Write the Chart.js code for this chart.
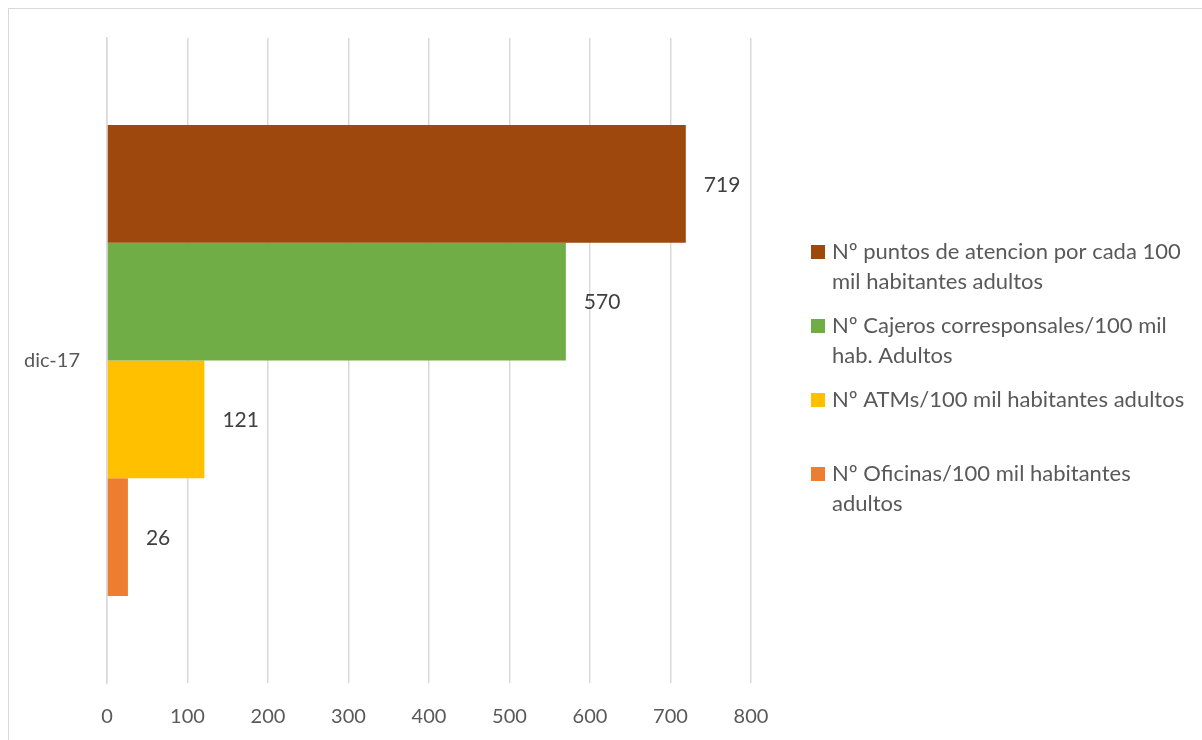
<!DOCTYPE html>
<html>
<head>
<meta charset="utf-8">
<script src="https://cdn.jsdelivr.net/npm/chart.js@4"></script>
<style>
  html, body { margin: 0; padding: 0; background: #fff; overflow: hidden; }
  #wrap { position: relative; width: 1202px; height: 740px; }
  #frame { position: absolute; left: 8px; top: 8px; width: 1300px; height: 800px; border: 1.5px solid #d9d9d9; box-sizing: border-box; }
  #chart { position: absolute; left: 0; top: 0; }
</style>
</head>
<body>
<div id="wrap">
  <div id="frame"></div>
  <canvas id="chart" width="1202" height="740"></canvas>
</div>
<script>
// Data
const categories = ['dic-17'];
const seriesNames = [
    ['Nº puntos de atencion por cada 100', 'mil habitantes adultos'],
    ['Nº Cajeros corresponsales/100 mil', 'hab. Adultos'],
    ['Nº ATMs/100 mil habitantes adultos'],
    ['Nº Oficinas/100 mil habitantes', 'adultos']
];
const puntosAtencion = [719];
const cajerosCorresponsales = [570];
const atms = [121];
const oficinas = [26];
const xTicks = [0, 100, 200, 300, 400, 500, 600, 700, 800];

const colors = ['#9E480E', '#70AD47', '#FFC000', '#ED7D31'];
const FONT = 'Lato, "Open Sans", sans-serif';

/**
 * Value labels placed after each bar end
 */
const valueLabels = {
    id: 'valueLabels',
    afterDatasetsDraw(chart) {
        const ctx = chart.ctx;
        ctx.save();
        ctx.font = '21px ' + FONT;
        ctx.fillStyle = '#404040';
        ctx.textAlign = 'left';
        ctx.textBaseline = 'middle';
        chart.data.datasets.forEach((ds, i) => {
            chart.getDatasetMeta(i).data.forEach((bar, j) => {
                ctx.fillText(String(ds.data[j]), bar.x + 18, bar.y + 1);
            });
        });
        ctx.restore();
    }
};

/**
 * Legend on the right, Excel style (wrapped lines)
 */
const sideLegend = {
    id: 'sideLegend',
    afterDraw(chart) {
        const ctx = chart.ctx;
        const x = 811;
        let y = 252;
        ctx.save();
        ctx.font = '22px ' + FONT;
        ctx.textBaseline = 'middle';
        ctx.textAlign = 'left';
        chart.data.datasets.forEach((ds, i) => {
            ctx.fillStyle = ds.backgroundColor;
            ctx.fillRect(x, y - 7, 14, 14);
            ctx.fillStyle = '#595959';
            ds.label.forEach((line, k) => {
                ctx.fillText(line, x + 21, y + k * 30);
            });
            y += 74;
        });
        ctx.restore();
    }
};

const datasets = [puntosAtencion, cajerosCorresponsales, atms, oficinas].map((vals, i) => ({
    label: seriesNames[i],
    data: vals,
    backgroundColor: colors[i],
    borderWidth: 0,
    categoryPercentage: 0.73,
    barPercentage: 1
}));

new Chart(document.getElementById('chart'), {
    type: 'bar',
    data: { labels: categories, datasets },
    plugins: [valueLabels, sideLegend],
    options: {
        indexAxis: 'y',
        responsive: false,
        animation: false,
        layout: { padding: { left: 0, right: 451, top: 38, bottom: 0 } },
        scales: {
            x: {
                min: xTicks[0],
                max: xTicks[xTicks.length - 1],
                afterBuildTicks: (scale) => { scale.ticks = xTicks.map(v => ({ value: v })); },
                afterFit: (scale) => { scale.height = 57; },
                grid: { color: '#d9d9d9', lineWidth: 1.5, drawTicks: false },
                border: { display: false },
                ticks: { color: '#595959', font: { family: FONT, size: 20 }, padding: 22 }
            },
            y: {
                afterFit: (scale) => { scale.width = 107; },
                grid: { display: false },
                border: { color: '#d9d9d9', width: 1.5 },
                ticks: { color: '#595959', font: { family: FONT, size: 20 }, padding: 19 }
            }
        },
        plugins: {
            legend: { display: false },
            tooltip: { enabled: false }
        }
    }
});
</script>
</body>
</html>
